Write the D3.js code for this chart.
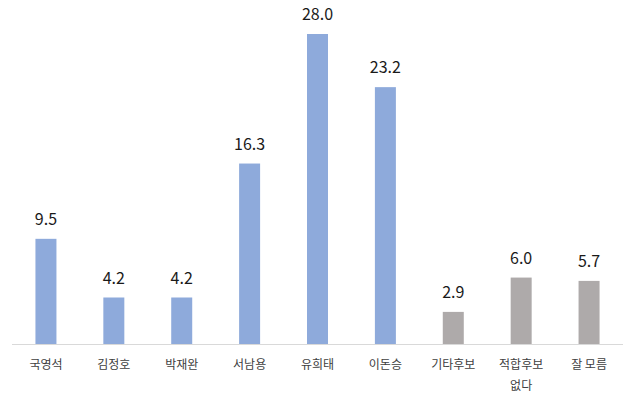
<!DOCTYPE html>
<html><head><meta charset="utf-8">
<script src="https://cdn.jsdelivr.net/npm/d3@7"></script>
<style>body{margin:0;background:#fff}svg{display:block}</style>
</head><body>
<svg id="c" width="640" height="401"></svg>
<script>
const categories = ["국영석","김정호","박재완","서남용","유희태","이돈승","기타후보","적합후보\n없다","잘 모름"];
const values = [9.5,4.2,4.2,16.3,28.0,23.2,2.9,6.0,5.7];
const groups = ["cand","cand","cand","cand","cand","cand","other","other","other"];
const colors = {cand:"#8eaadb", other:"#aeaaaa"};

const svg = d3.select("#c");
const x = d3.scaleBand().domain(categories).range([12,623]);
const y = d3.scaleLinear().domain([0,28]).range([344,34]);
const bw = 21;
const data = categories.map((c,i)=>({c,v:values[i],g:groups[i]}));

svg.append("line").attr("x1",12).attr("x2",623).attr("y1",344.5).attr("y2",344.5)
  .attr("stroke","#d9d9d9").attr("stroke-width",1);

svg.selectAll("rect.bar").data(data).join("rect").attr("class","bar")
  .attr("x",d=>x(d.c)+x.bandwidth()/2-bw/2).attr("width",bw)
  .attr("y",d=>y(d.v)).attr("height",d=>344-y(d.v))
  .attr("fill",d=>colors[d.g]);

svg.selectAll("text.val").data(data).join("text").attr("class","val")
  .attr("x",d=>x(d.c)+x.bandwidth()/2).attr("y",d=>y(d.v)-14)
  .attr("text-anchor","middle").attr("font-family","'Noto Sans CJK KR','Noto Sans',sans-serif")
  .attr("font-size",16).attr("fill","#1a1a1a").text(d=>d.v.toFixed(1));

const lab = svg.selectAll("text.cat").data(data).join("text").attr("class","cat")
  .attr("x",d=>x(d.c)+x.bandwidth()/2).attr("y",369)
  .attr("text-anchor","middle").attr("font-family","'Noto Sans CJK KR',sans-serif")
  .attr("font-size",12).attr("fill","#404040");
lab.each(function(d){
  const parts = d.c.split("\n");
  const t = d3.select(this);
  parts.forEach((p,i)=>t.append("tspan").attr("x",x(d.c)+x.bandwidth()/2).attr("dy",i?21:0).text(p));
});
</script>
</body></html>
